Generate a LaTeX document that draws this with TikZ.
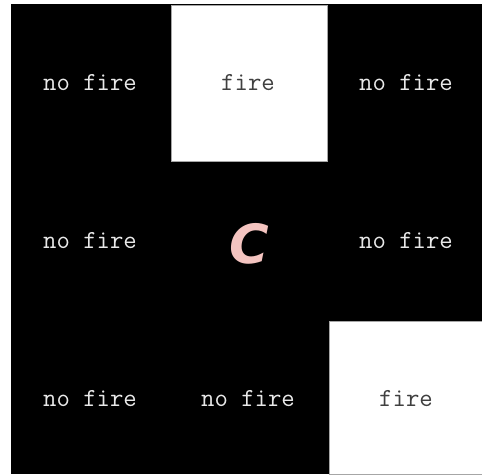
\documentclass[tikz,border=0pt]{standalone}
\usepackage{fontspec}
\newfontfamily\cfont{DejaVu Sans}
\definecolor{pinkc}{HTML}{F4C4C0}
\definecolor{lighttext}{HTML}{E8E8E8}
\definecolor{darktext}{HTML}{404040}
\begin{document}
\begin{tikzpicture}[x=1pt,y=1pt,
  cellbox/.style={fill=white,draw=gray!70,line width=0.8pt},
  dark/.style={text=lighttext,font=\ttfamily\fontsize{26}{28}\selectfont},
  light/.style={text=darktext,font=\ttfamily\fontsize{26}{28}\selectfont}]
\useasboundingbox (0,0) rectangle (482,474);
\fill[black] (11,0) rectangle (482,470);
\path[cellbox] (171,313) rectangle (327,469);
\path[cellbox] (329,0) rectangle (483,153);
\node[dark]  (a11) at (90,391) {no fire};
\node[light] (a12) at (248,391) {fire};
\node[dark]  (a13) at (406,391) {no fire};
\node[dark]  (a21) at (90,233) {no fire};
\node[text=pinkc,font=\cfont\bfseries\itshape\fontsize{54}{56}\selectfont] (c) at (249,230) {C};
\node[dark]  (a23) at (406,233) {no fire};
\node[dark]  (a31) at (90,75) {no fire};
\node[dark]  (a32) at (248,75) {no fire};
\node[light] (a33) at (406,75) {fire};
\end{tikzpicture}
\end{document}
